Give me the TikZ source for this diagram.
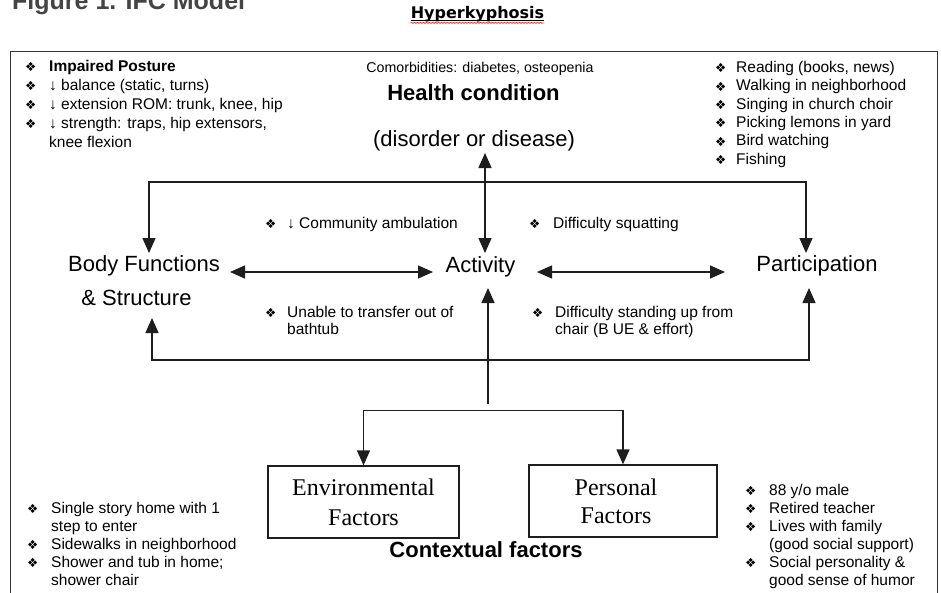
\documentclass[tikz,border=0pt]{standalone}
\usepackage{fontspec}
\setmainfont{Liberation Sans}
\newfontfamily\dejavu{DejaVu Sans}
\newfontfamily\timesf{Liberation Serif}
\usetikzlibrary{arrows.meta,decorations.pathmorphing}
\newcommand\fsz[2]{\fontsize{#1}{#2}\selectfont}
\newcommand\bul[1]{\makebox[#1][l]{\raisebox{-0.5pt}{\dejavu\fsz{12.5}{10}❖}}}
\definecolor{titlegray}{RGB}{68,68,68}
\definecolor{linecol}{RGB}{30,30,30}
\begin{document}
\begin{tikzpicture}[x=1pt,y=-1pt,
  conn/.style={line width=1.5pt, draw=linecol},
  arrowend/.style={-{Triangle[length=15pt,width=13pt]}},
  dbl/.style={{Triangle[length=15pt,width=13pt]}-{Triangle[length=15pt,width=13pt]}},
  txt/.style={inner sep=0pt, anchor=base},
  lst/.style={inner sep=0pt, anchor=north west, align=left},
  factorbox/.style={draw=linecol, line width=1.3pt, inner sep=0pt, align=center, font=\timesf\fsz{24}{30}}]
\useasboundingbox (0,0) rectangle (941,592);
\clip (0,0) rectangle (941,592);

% title and heading
\node[txt, anchor=base west, text=titlegray, font=\bfseries\fsz{25}{30}] (title) at (12,9) {Figure 1. IFC Model};
\node[txt, font=\dejavu\bfseries\fsz{16}{18}] (hyp) at (477.5,18) {Hyperkyphosis};
\draw[line width=1pt] ([yshift=-2.2pt]hyp.base west) -- ([yshift=-2.2pt]hyp.base east);
\draw[red, line width=0.5pt, decorate, decoration={snake, amplitude=0.7pt, segment length=3pt}] ([yshift=-4.8pt]hyp.base west) -- ([yshift=-4.8pt]hyp.base east);

% frame
\draw[line width=1.3pt, draw=black!80] (10.5,51.5) rectangle (937.5,620);

% top-left list
\node[lst, font=\fsz{15.5}{19}] (bodylist) at (25,57) {\rule{0pt}{14pt}\bul{24pt}\textbf{Impaired Posture}\\
\bul{24pt}↓ balance (static, turns)\\
\bul{24pt}↓ extension ROM: trunk, knee, hip\\
\bul{24pt}↓ strength: traps, hip extensors,\\
\hspace*{24pt}knee flexion};

% health condition
\node[txt, font=\fsz{14.2}{17}] (comorb) at (480,72) {Comorbidities: diabetes, osteopenia};
\node[txt, font=\bfseries\fsz{22}{26}] (hc1) at (473.5,100) {Health condition};
\node[txt, font=\fsz{22}{26}] (hc2) at (474,146) {(disorder or disease)};

% top-right list
\node[lst, font=\fsz{15.5}{18.4}] (partlist) at (715,58) {\rule{0pt}{14pt}\bul{21pt}Reading (books, news)\\
\bul{21pt}Walking in neighborhood\\
\bul{21pt}Singing in church choir\\
\bul{21pt}Picking lemons in yard\\
\bul{21pt}Bird watching\\
\bul{21pt}Fishing};

% main components
\node[txt, font=\fsz{22}{26}] (bf1) at (144,271) {Body Functions};
\node[txt, font=\fsz{22}{26}] (bf2) at (136.5,305) {\& Structure};
\node[txt, font=\fsz{22}{26}] (act) at (480.5,272) {Activity};
\node[txt, font=\fsz{22}{26}] (part) at (817,271) {Participation};

% middle labels
\node[lst, font=\fsz{15.5}{17.5}] (commamb) at (265,214) {\rule{0pt}{14pt}\bul{22pt}↓ Community ambulation};
\node[lst, font=\fsz{15.5}{17.5}] (squat) at (529,214) {\rule{0pt}{14pt}\bul{24pt}Difficulty squatting};
\node[lst, font=\fsz{15.5}{17}] (bathtub) at (265,303) {\rule{0pt}{14pt}\bul{22pt}Unable to transfer out of\\ \hspace*{22pt}bathtub};
\node[lst, font=\fsz{15.5}{17}] (standup) at (532,303) {\rule{0pt}{14pt}\bul{23pt}Difficulty standing up from\\ \hspace*{23pt}chair (B UE \& effort)};

% connectors among components
\coordinate (hcS) at (485,153);
\coordinate (actN) at (485,253);
\draw[conn, dbl] (hcS) -- (actN);
\coordinate (bfN) at (149,253);
\coordinate (partN) at (806,253);
\draw[conn, dbl] (bfN) -- ++(0,-71) -| (partN);
\coordinate (bfS) at (152,318);
\coordinate (partS) at (809,288);
\draw[conn, dbl] (bfS) -- ++(0,42) -| (partS);
\coordinate (bfE) at (230,272);
\coordinate (actW) at (433,272);
\draw[conn, dbl] (bfE) -- (actW);
\coordinate (actE) at (537,272);
\coordinate (partW) at (725,272);
\draw[conn, dbl] (actE) -- (partW);

% contextual factors
\node[factorbox, minimum width=191pt, minimum height=72pt] (env) at (363.5,502) {Environmental\\Factors};
\node[draw=linecol, line width=1.3pt, inner sep=0pt, minimum width=188pt, minimum height=72pt] (pers) at (623,501) {};
\node[inner sep=0pt, align=center, font=\timesf\fsz{24}{28}] (perstext) at (616,501) {Personal\\Factors};
\node[txt, font=\bfseries\fsz{22}{26}] (ctx) at (486,557) {Contextual factors};

\coordinate (ctxTop) at (488,404);
\coordinate (actS) at (488,288);
\draw[conn, arrowend] (ctxTop) -- (actS);
\draw[conn, dbl] (env.north) -- ++(0,-55) -| (pers.north);

% bottom lists
\node[lst, font=\fsz{15.5}{18}] (envlist) at (27,499) {\rule{0pt}{14pt}\bul{24pt}Single story home with 1\\
\hspace*{24pt}step to enter\\
\bul{24pt}Sidewalks in neighborhood\\
\bul{24pt}Shower and tub in home;\\
\hspace*{24pt}shower chair};
\node[lst, font=\fsz{15.5}{18}] (perslist) at (745,481) {\rule{0pt}{14pt}\bul{24pt}88 y/o male\\
\bul{24pt}Retired teacher\\
\bul{24pt}Lives with family\\
\hspace*{24pt}(good social support)\\
\bul{24pt}Social personality \&\\
\hspace*{24pt}good sense of humor};
\end{tikzpicture}
\end{document}
